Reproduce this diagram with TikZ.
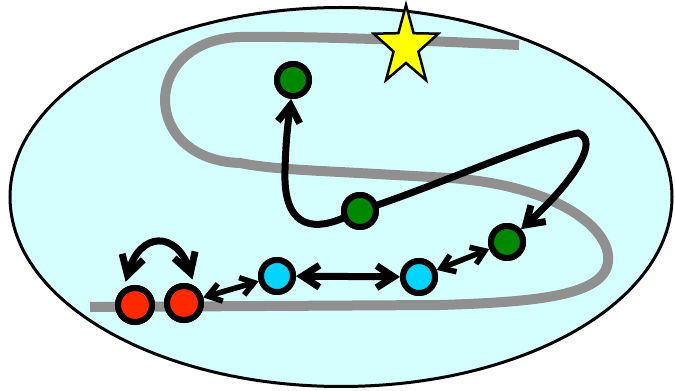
\documentclass[tikz,border=0pt]{standalone}
\usetikzlibrary{arrows.meta}
\definecolor{bgc}{RGB}{213,255,255}
\definecolor{grayline}{RGB}{144,144,144}
\definecolor{dotgreen}{RGB}{0,136,0}
\definecolor{dotcyan}{RGB}{0,212,255}
\definecolor{dotred}{RGB}{255,40,0}
\definecolor{staryellow}{RGB}{255,255,0}
\begin{document}
\begin{tikzpicture}[x=1pt,y=1pt,
  dot/.style={circle, draw=black, line width=6pt, minimum size=32pt, inner sep=0pt},
  bigdot/.style={dot, minimum size=34pt},
  conn/.style={draw=black, line width=7pt, line cap=round},
  thinconn/.style={draw=black, line width=5.5pt, line cap=round},
  bigtip/.style={-{Straight Barb[length=17pt,width=22pt]}},
  bigboth/.style={{Straight Barb[length=17pt,width=22pt]}-{Straight Barb[length=17pt,width=22pt]}},
  smallboth/.style={{Straight Barb[length=13pt,width=18pt]}-{Straight Barb[length=13pt,width=18pt]}},
  curveboth/.style={{Straight Barb[length=19pt,width=22pt]}-{Straight Barb[length=19pt,width=22pt]}}
]
\useasboundingbox (0,0) rectangle (675,391);
% region
\draw[line width=3pt, fill=bgc] (341,194) ellipse [x radius=331pt, y radius=189.5pt];
% gray S path
\draw[grayline, line width=10pt, line cap=butt]
  (519,346) .. controls (430,350) and (320,355) .. (240,354)
  .. controls (140,351) and (140,231) .. (240,228)
  .. controls (265,223) and (300,221) .. (340,219)
  -- (450,213)
  .. controls (560,205) and (612,161) .. (608,129)
  .. controls (604,96) and (540,89) .. (440,86)
  -- (90,84);
% star
\draw[line width=2.5pt, fill=staryellow, line join=miter]
  (406,386) -- (398.4,357.8) -- (373.7,357.3) -- (393.6,339.4) -- (386.0,310.9)
  -- (406,328) -- (426.0,310.9) -- (418.4,339.4) -- (438.3,357.3) -- (413.6,357.8) -- cycle;
% nodes
\node[dot, fill=dotgreen] (g1) at (293,311) {};
\node[dot, fill=dotgreen] (g2) at (360,180) {};
\node[dot, fill=dotgreen] (g3) at (507,149) {};
\node[dot, fill=dotcyan] (c1) at (277,115) {};
\node[dot, fill=dotcyan] (c2) at (419,114) {};
\node[bigdot, fill=dotred] (r1) at (135,86) {};
\node[bigdot, fill=dotred] (r2) at (184,88) {};
% connectors
\draw[conn, bigtip] (g2) .. controls (310,159) and (283,166) .. (285,221)
  .. controls (286,261) and (290,281) .. (g1);
\draw[conn, bigtip] (g2) .. controls (450,211) and (545,253) .. (578,258)
  .. controls (600,251) and (575,211) .. (g3);
\draw[conn, bigboth] (c1) -- (c2);
\draw[thinconn, smallboth] (g3) -- (c2);
\draw[thinconn, smallboth] (c1) -- (r2);
\draw[conn, curveboth] ([shift={(112:5pt)}]r1.112) .. controls (140,160) and (177,160) .. ([shift={(70:5pt)}]r2.70);
% redraw nodes on top
\node[dot, fill=dotgreen] at (g1) {};
\node[dot, fill=dotgreen] at (g2) {};
\node[dot, fill=dotgreen] at (g3) {};
\node[dot, fill=dotcyan] at (c1) {};
\node[dot, fill=dotcyan] at (c2) {};
\node[bigdot, fill=dotred] at (r1) {};
\node[bigdot, fill=dotred] at (r2) {};
\end{tikzpicture}
\end{document}
